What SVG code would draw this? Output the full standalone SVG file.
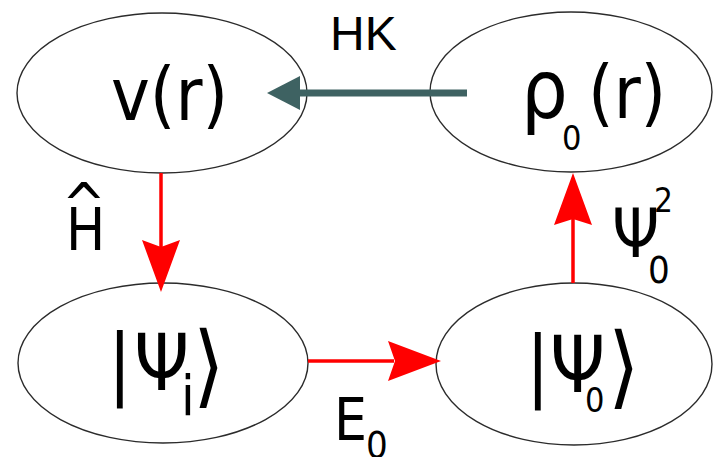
<svg xmlns="http://www.w3.org/2000/svg" width="714" height="457" viewBox="0 0 714 457">
<style>
.node ellipse{fill:#fff;stroke:#2b2b2b;stroke-width:1.4}
.t{font-family:"DejaVu Sans Condensed","DejaVu Sans",sans-serif;font-stretch:condensed;fill:#000}
.lbl{font-family:"Liberation Sans",Arial,sans-serif;fill:#000}
.red{stroke:#ff0000;stroke-width:3.5;fill:none}
.redhead{fill:#ff0000}
</style>
<rect width="714" height="457" fill="#fff"/>
<g id="node-v" class="node">
  <ellipse cx="162" cy="93" rx="145" ry="80"/>
  <text class="t" x="111" y="120" font-size="73">v(r)</text>
</g>
<g id="node-rho" class="node">
  <ellipse cx="571" cy="92" rx="141" ry="80"/>
  <text class="t" y="118" font-size="73"><tspan x="521" font-size="82">ρ</tspan><tspan x="562" y="150" font-size="34">0</tspan><tspan x="588" y="118">(r)</tspan></text>
</g>
<g id="node-psii" class="node">
  <ellipse cx="163" cy="363" rx="145" ry="80"/>
  <text class="t" y="390" font-size="78"><tspan x="108">|</tspan><tspan x="134">Ψ</tspan><tspan x="181" y="415" font-size="55">i</tspan><tspan x="193" y="396" font-size="90">⟩</tspan></text>
</g>
<g id="node-psi0" class="node">
  <ellipse cx="574" cy="364" rx="138" ry="81"/>
  <text class="t" y="392" font-size="78"><tspan x="526">|</tspan><tspan x="550">Ψ</tspan><tspan x="585" y="412" font-size="34">0</tspan><tspan x="608" y="397" font-size="90">⟩</tspan></text>
</g>
<g id="connectors">
  <g id="e-hk">
    <line x1="298" y1="93" x2="467" y2="93" stroke="#3e6262" stroke-width="7"/>
    <polygon points="267,93 300,76 300,110" fill="#3e6262"/>
  </g>
  <g id="e-h">
    <line class="red" x1="161" y1="173" x2="161" y2="248"/>
    <polygon class="redhead" points="161,292 142,240 161,247 180,240"/>
  </g>
  <g id="e-e0">
    <line class="red" x1="308" y1="361" x2="394" y2="361"/>
    <polygon class="redhead" points="441,361 388,341 395,361 388,381"/>
  </g>
  <g id="e-psi2">
    <line class="red" x1="573" y1="283" x2="573" y2="218"/>
    <polygon class="redhead" points="573,173 554,225 573,219 592,225"/>
  </g>
</g>
<g id="labels">
  <text class="lbl" x="330" y="50" font-size="48">HK</text>
  <text class="t" y="250" font-size="58"><tspan x="62" y="225" style="font-stretch:normal">^</tspan><tspan x="66" y="250">H</tspan></text>
  <text class="t" y="257" font-size="67"><tspan x="612">Ψ</tspan><tspan x="654" y="212" font-size="33">2</tspan><tspan x="648" y="283" font-size="38">0</tspan></text>
  <text class="t" y="440" font-size="58"><tspan x="334">E</tspan><tspan x="366" y="458" font-size="38">0</tspan></text>
</g>
</svg>
